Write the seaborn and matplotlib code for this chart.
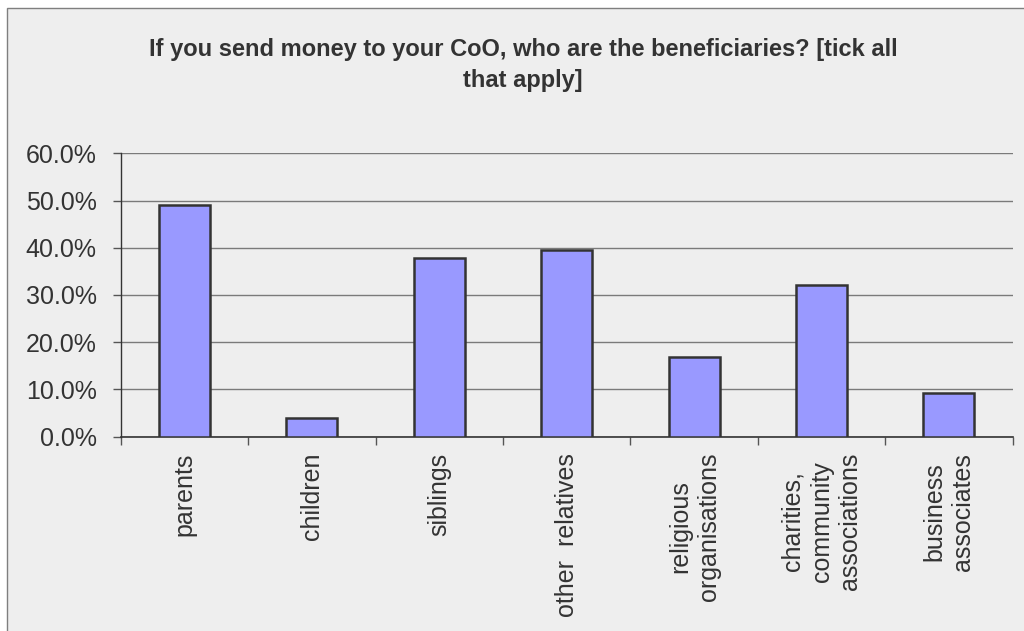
import matplotlib
matplotlib.use("Agg")
import matplotlib.pyplot as plt
import matplotlib.patches as mpatches
from matplotlib.ticker import FixedLocator, FuncFormatter
import pandas as pd
import seaborn as sns

# ============================
# DATA
# ============================

categories = [
    "parents",
    "children",
    "siblings",
    "other  relatives",
    "religious\norganisations",
    "charities,\ncommunity\nassociations",
    "business\nassociates",
]
share_pct = [49.1, 3.9, 37.8, 39.5, 16.9, 32.1, 9.3]
y_ticks = [0, 10, 20, 30, 40, 50, 60]
title = "If you send money to your CoO, who are the beneficiaries? [tick all\nthat apply]"

# ============================
# STYLE
# ============================

BG = "#EEEEEE"
TEXT = "#333333"
BAR = "#9999FF"

sns.set_style("white")
plt.rcParams["font.family"] = ["Liberation Sans", "DejaVu Sans"]

df = pd.DataFrame({"category": categories, "share": share_pct})

fig = plt.figure(figsize=(10.24, 6.31), dpi=100)
fig.patch.set_facecolor("white")

# chart frame (only left/top edges visible in the picture)
frame = mpatches.Rectangle((7 / 1024, -0.1), 1.2, (631 - 8) / 631 + 0.1,
                           transform=fig.transFigure, facecolor=BG,
                           edgecolor="#7F7F7F", linewidth=1.0, zorder=-10)
fig.patches.append(frame)

ax = fig.add_axes([120.7 / 1024, 1 - 436.7 / 631,
                   (1012.7 - 120.7) / 1024, (436.7 - 153.3) / 631])
ax.set_facecolor(BG)

sns.barplot(data=df, x="category", y="share", ax=ax, color=BAR,
            saturation=1, width=0.4, edgecolor="#333333", linewidth=1.8,
            zorder=3)

ax.set_ylim(0, 60)
ax.set_xlim(-0.5, len(categories) - 0.5)
ax.yaxis.set_major_locator(FixedLocator(y_ticks))
ax.yaxis.set_major_formatter(FuncFormatter(lambda v, p: f"{v:.1f}%"))
ax.grid(axis="y", color="#7A7A7A", linewidth=1.0, zorder=0)
ax.set_axisbelow(True)

for side in ["top", "right"]:
    ax.spines[side].set_visible(False)
ax.spines["left"].set_color("#333333")
ax.spines["bottom"].set_color("#333333")
ax.spines["left"].set_linewidth(1.0)
ax.spines["bottom"].set_linewidth(1.2)

ax.tick_params(axis="y", which="major", length=5.8, width=1.0, color="#555555",
               pad=11.5, labelsize=18, labelcolor=TEXT, left=True)
ax.set_xticks(range(len(categories)))
ax.set_xticklabels(categories, rotation=90, ha="center", va="top",
                   multialignment="center", linespacing=1.25)
ax.set_xticks([i - 0.5 for i in range(len(categories) + 1)], minor=True)
ax.tick_params(axis="x", which="major", length=0, pad=11.5,
               labelsize=18, labelcolor=TEXT)
ax.tick_params(axis="x", which="minor", length=5.5, width=1.0,
               color="#555555", bottom=True)

ax.set_xlabel("")
ax.set_ylabel("")

fig.text(0.511, 1 - 65 / 631, title, ha="center", va="center",
         fontsize=17, fontweight="bold", color=TEXT, linespacing=1.4)

fig.savefig("out.png", dpi=100, facecolor=fig.get_facecolor())
